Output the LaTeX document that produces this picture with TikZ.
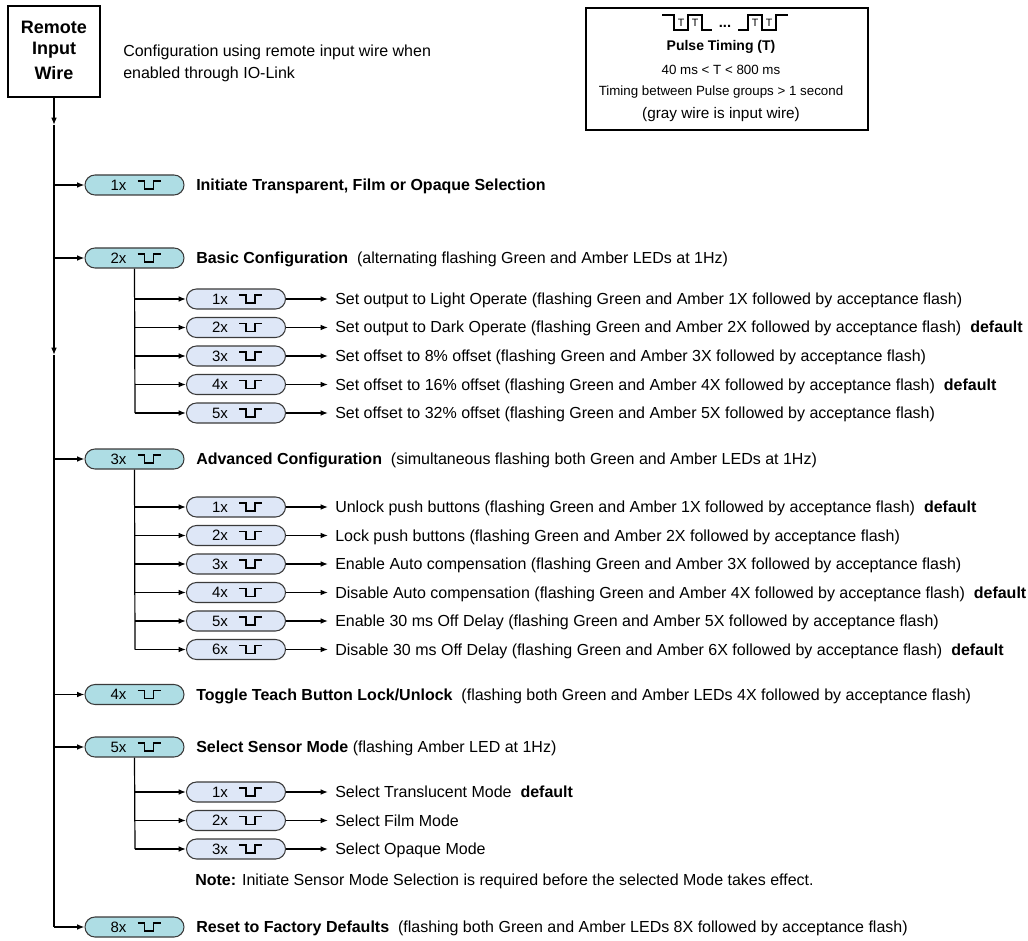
\documentclass[tikz,border=0pt]{standalone}
\usepackage{fontspec}
\setmainfont{Liberation Sans}
\usetikzlibrary{arrows.meta,shapes.misc}
\definecolor{mainfill}{HTML}{AEDDE4}
\definecolor{subfill}{HTML}{DEE7F7}
\definecolor{edgec}{HTML}{3A3A3A}
\tikzset{
  x=0.75pt, y=-0.75pt,
  conn/.style={line width=0.9pt, draw=black},
  arr/.style={conn, -{Latex[length=5.5pt,width=4.2pt]}},
  pillbase/.style={rounded rectangle, draw=edgec, line width=0.8pt, minimum width=99*0.75pt, minimum height=20*0.75pt, inner sep=0pt},
  mainpill/.style={pillbase, fill=mainfill},
  subpill/.style={pillbase, fill=subfill},
  pilllabel/.style={inner sep=0pt, font=\fontsize{11.25}{13}\selectfont},
  pulseline/.style={line width=0.8pt, draw=black},
  rowtxt/.style={anchor=base west, inner sep=0pt, font=\fontsize{12}{14}\selectfont},
  titletxt/.style={inner sep=0pt, font=\fontsize{13.5}{16}\selectfont\bfseries},
  boxtxt/.style={inner sep=0pt, font=\fontsize{10}{12}\selectfont},
  tee/.style={inner sep=0pt, font=\fontsize{8}{9}\selectfont},
}
\newcommand{\mkpill}[5]{%
  \node[#1] (#2) at (#3,#4) {};
  \node[pilllabel] at ([shift={(-16,0)}]#2.center) {#5};
  \draw[pulseline] ([shift={(3,-4)}]#2.center) -- ++(7,0) -- ++(0,8) -- ++(9,0) -- ++(0,-8) -- ++(7,0);
}
\newcommand{\subrow}[5]{% name, y, label, text, branch x
  \coordinate (#1b) at (#5,#2);
  \mkpill{subpill}{#1}{#5+101}{#2}{#3}
  \node[rowtxt] (#1t) at (335,#2+5.5) {#4};
  \draw[arr] (#1b) -- (#1.west);
  \draw[arr] (#1.east) -- ([shift={(-7,-5.5)}]#1t.base west);
}
\begin{document}
\begin{tikzpicture}
\useasboundingbox (0,0) rectangle (1028,941);
% title box
\node[draw, line width=0.9pt, minimum width=92*0.75pt, minimum height=91*0.75pt, inner sep=0pt] (rbox) at (54,51.5) {};
\node[titletxt] at (54,27) {Remote};
\node[titletxt] at (54,50) {Input};
\node[titletxt] at (54,73) {Wire};
\node[rowtxt] (desc1) at (123,56.5) {Configuration using remote input wire when};
\node[rowtxt] (desc2) at (123,78.5) {enabled through IO-Link};
% timing box
\node[draw, line width=0.9pt, minimum width=282*0.75pt, minimum height=122*0.75pt, inner sep=0pt] (tbox) at (727,69) {};
\draw[pulseline] (662,15) -- (674,15) -- (674,30) -- (688,30) -- (688,15) -- (702,15) -- (702,30) -- (712,30);
\node[inner sep=0pt, font=\fontsize{11}{12}\selectfont\bfseries] (dots) at (725,26) {...};
\draw[pulseline] (738,30) -- (748,30) -- (748,15) -- (762,15) -- (762,30) -- (776,30) -- (776,15) -- (788,15);
\node[tee] at (681,22.5) {T};
\node[tee] at (695,22.5) {T};
\node[tee] at (755,22.5) {T};
\node[tee] at (769,22.5) {T};
\node[boxtxt, font=\fontsize{10.5}{12}\selectfont\bfseries] (pt) at (721,47) {Pulse Timing (T)};
\node[boxtxt] (pt2) at (721,70) {40 ms < T < 800 ms};
\node[boxtxt] (pt3) at (721,92) {Timing between Pulse groups > 1 second};
\node[boxtxt, font=\fontsize{11.5}{13}\selectfont] (pt4) at (721,115) {(gray wire is input wire)};
% main line coordinates
\coordinate (d1) at (54,125);
\coordinate (d2) at (54,355);
\coordinate (m1) at (54,185);
\coordinate (m2) at (54,258);
\coordinate (m3) at (54,459);
\coordinate (m4) at (54,694.5);
\coordinate (m5) at (54,747);
\coordinate (m8) at (54,927);
\draw[arr] (rbox.south) -- (d1);
\draw[arr] (d1) -- (d2);
\draw[conn] (d2) -- (m8);
% main pills
\mkpill{mainpill}{p1}{134.5}{185}{1x}
\mkpill{mainpill}{p2}{134.5}{258}{2x}
\mkpill{mainpill}{p3}{134.5}{459}{3x}
\mkpill{mainpill}{p4}{134.5}{694.5}{4x}
\mkpill{mainpill}{p5}{134.5}{747}{5x}
\mkpill{mainpill}{p8}{134.5}{927}{8x}
\draw[arr] (m1) -- (p1.west);
\draw[arr] (m2) -- (p2.west);
\draw[arr] (m3) -- (p3.west);
\draw[arr] (m4) -- (p4.west);
\draw[arr] (m5) -- (p5.west);
\draw[arr] (m8) -- (p8.west);
\node[rowtxt] (t1) at (196,190.5) {\textbf{Initiate Transparent, Film or Opaque Selection}};
\node[rowtxt] (t2) at (196,263.5) {\textbf{Basic Configuration}\ \ (alternating flashing Green and Amber LEDs at 1Hz)};
\node[rowtxt] (t3) at (196,464.5) {\textbf{Advanced Configuration}\ \ (simultaneous flashing both Green and Amber LEDs at 1Hz)};
\node[rowtxt] (t4) at (196,700) {\textbf{Toggle Teach Button Lock/Unlock}\ \ (flashing both Green and Amber LEDs 4X followed by acceptance flash)};
\node[rowtxt] (t5) at (196,752.5) {\textbf{Select Sensor Mode} (flashing Amber LED at 1Hz)};
\node[rowtxt] (t8) at (196,932.5) {\textbf{Reset to Factory Defaults}\ \ (flashing both Green and Amber LEDs 8X followed by acceptance flash)};
% 2x sub rows
\draw[conn] (p2.south) -- (135,413);
\subrow{sa}{299}{1x}{Set output to Light Operate (flashing Green and Amber 1X followed by acceptance flash)}{135}
\subrow{sb}{327.5}{2x}{Set output to Dark Operate (flashing Green and Amber 2X followed by acceptance flash)\ \ \textbf{default}}{135}
\subrow{sc}{356}{3x}{Set offset to 8\% offset (flashing Green and Amber 3X followed by acceptance flash)}{135}
\subrow{sd}{384.5}{4x}{Set offset to 16\% offset (flashing Green and Amber 4X followed by acceptance flash)\ \ \textbf{default}}{135}
\subrow{se}{413}{5x}{Set offset to 32\% offset (flashing Green and Amber 5X followed by acceptance flash)}{135}
% 3x sub rows
\draw[conn] (p3.south) -- (135,649.5);
\subrow{ua}{507}{1x}{Unlock push buttons (flashing Green and Amber 1X followed by acceptance flash)\ \ \textbf{default}}{135}
\subrow{ub}{535.5}{2x}{Lock push buttons (flashing Green and Amber 2X followed by acceptance flash)}{135}
\subrow{uc}{564}{3x}{Enable Auto compensation (flashing Green and Amber 3X followed by acceptance flash)}{135}
\subrow{ud}{592.5}{4x}{Disable Auto compensation (flashing Green and Amber 4X followed by acceptance flash)\ \ \textbf{default}}{135}
\subrow{ue}{621}{5x}{Enable 30 ms Off Delay (flashing Green and Amber 5X followed by acceptance flash)}{135}
\subrow{uf}{649.5}{6x}{Disable 30 ms Off Delay (flashing Green and Amber 6X followed by acceptance flash)\ \ \textbf{default}}{135}
% 5x sub rows
\draw[conn] (p5.south) -- (135,849);
\subrow{va}{792}{1x}{Select Translucent Mode\ \ \textbf{default}}{135}
\subrow{vb}{820.5}{2x}{Select Film Mode}{135}
\subrow{vc}{849}{3x}{Select Opaque Mode}{135}
\node[rowtxt] (note) at (195,885.5) {\textbf{Note:} Initiate Sensor Mode Selection is required before the selected Mode takes effect.};
\end{tikzpicture}
\end{document}
